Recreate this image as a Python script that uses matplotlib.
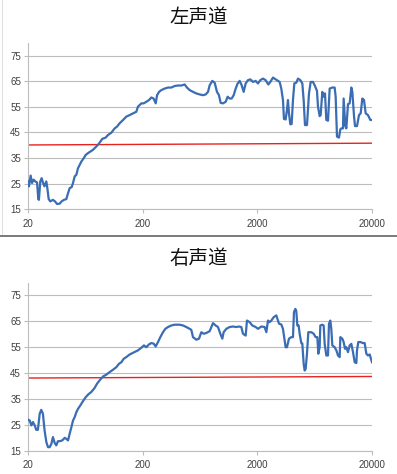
import matplotlib
matplotlib.use("Agg")
import matplotlib.pyplot as plt
from matplotlib.lines import Line2D

# left channel (Hz, dB)
left_freq = [20, 20.4, 21.1, 21.7, 22.4, 23.2, 24.0, 24.6, 24.9, 25.6, 26.3, 27.0, 27.8,
             28.9, 29.5, 30.3, 31.3, 33.0, 34.4, 35.8, 37.8, 39.3, 41.2, 43.2, 44.7, 46.2,
             48.1, 49.4, 51.1, 52.8, 54.6, 56.4, 58.4, 61.2, 63.7, 66.7, 69.9, 73.8, 78.9,
             82.7, 85.5, 89.0, 95.2, 99.7, 106.6, 114, 119.5, 126, 135, 144, 154, 165, 176,
             182, 195, 204, 215, 227, 238, 249, 260, 267, 278, 291, 311, 333, 356, 380, 407,
             435, 465, 487, 514, 550, 588, 628, 672, 709, 743, 768, 810, 849, 890, 926, 958,
             1003, 1059, 1102, 1147, 1195, 1244, 1295, 1348, 1403, 1461, 1520, 1583, 1658,
             1738, 1834, 1934, 2027, 2124, 2241, 2364, 2494, 2596, 2739, 2890, 3028, 3131,
             3237, 3347, 3415, 3531, 3627, 3700, 3776, 3879, 3984, 4092, 4204, 4376, 4525,
             4743, 4937, 5071, 5208, 5422, 5644, 5837, 6116, 6367, 6628, 6763, 6991, 7134,
             7377, 7578, 7784, 7995, 8267, 8548, 9019, 9452, 9643, 9904, 10310, 10590, 10800,
             11170, 11320, 11710, 11950, 12350, 12770, 13210, 13480, 13940, 14220, 14800,
             15410, 15940, 16480, 17040, 17620, 18460, 19340, 20000]
left_db = [25.8, 23.9, 28.1, 25.2, 26.5, 25.8, 25.4, 18.9, 18.6, 25.8, 27.1, 25.4, 23.9,
           25.8, 23.2, 18.9, 18.0, 18.6, 18.0, 17.0, 17.1, 18.0, 18.6, 18.9, 21.2, 23.2,
           23.6, 25.2, 27.8, 28.4, 31.0, 32.3, 33.6, 34.9, 36.2, 36.9, 37.5, 38.2, 39.5,
           40.5, 41.4, 42.5, 43.0, 44.0, 44.9, 46.6, 47.3, 48.6, 49.9, 51.2, 51.8, 52.5, 53.1,
           55.1, 56.4, 56.4, 57.0, 57.7, 58.7, 58.3, 56.4, 59.6, 60.9, 61.6, 62.2, 62.6, 62.6,
           63.2, 63.4, 63.4, 63.8, 62.6, 61.6, 60.9, 60.3, 59.9, 59.6, 59.9, 60.9, 63.5, 65.2,
           64.5, 60.9, 59.6, 56.6, 56.4, 57.0, 59.0, 58.3, 58.3, 59.6, 62.2, 64.2, 65.2, 63.5,
           60.9, 64.2, 65.5, 65.8, 64.8, 65.2, 64.2, 65.5, 66.1, 65.5, 63.8, 64.8, 66.5, 65.8,
           65.2, 64.8, 62.2, 57.7, 50.3, 50.1, 53.8, 57.7, 52.5, 48.2, 48.3, 57.7, 64.2, 64.5,
           66.1, 65.5, 64.2, 57.7, 47.9, 47.9, 60.3, 64.8, 64.8, 63.2, 61.3, 55.1, 51.4, 51.8,
           60.9, 59.0, 60.3, 49.9, 49.6, 62.2, 62.6, 62.6, 59.0, 43.4, 43.0, 46.2, 46.6, 46.6,
           58.3, 47.5, 46.6, 56.1, 56.4, 62.6, 60.9, 51.4, 47.5, 47.5, 51.8, 52.5, 58.3, 57.7,
           52.5, 51.8, 49.9, 49.9]

# right channel (Hz, dB)
right_freq = [20, 20.7, 21.4, 22.1, 22.9, 23.6, 24.4, 25.3, 26.1, 27.0, 27.9, 28.9, 29.9,
              30.9, 32.0, 33.0, 34.2, 35.3, 36.5, 37.8, 39.8, 41.8, 43.2, 44.7, 46.2, 47.8,
              49.4, 51.1, 52.8, 54.6, 57.2, 60.4, 63.7, 67.2, 71.3, 76.3, 80.0, 84.3, 90.2,
              96.4, 103.1, 110.2, 117.9, 124.4, 130.3, 136.5, 144.1, 154.1, 162.6, 170.4,
              182.2, 194.7, 205.4, 215.3, 227.1, 238.0, 249.4, 259.6, 272.2, 285.2, 300.8,
              315.3, 332.6, 355.7, 380.2, 420.5, 449.6, 480.7, 514, 531.5, 549.6, 587.6, 619.9,
              649.6, 680.9, 718.3, 767.9, 821, 866, 907.8, 951.4, 990.3, 1017, 1073, 1147,
              1227, 1312, 1384, 1450, 1500, 1583, 1625, 1715, 1809, 1934, 2027, 2167, 2317,
              2397, 2478, 2562, 2649, 2777, 2929, 3090, 3237, 3347, 3461, 3531, 3627, 3776,
              3958, 4092, 4176, 4290, 4376, 4465, 4586, 4679, 4838, 4937, 5071, 5174, 5279,
              5422, 5568, 5914, 6200, 6450, 6673, 6809, 6991, 7087, 7377, 7578, 7732, 7995,
              8267, 8434, 8662, 8834, 9019, 9452, 9776, 10110, 10450, 10590, 11020, 11320,
              11630, 11950, 12350, 12770, 13210, 13660, 14130, 14610, 14800, 15200, 15830,
              16690, 17270, 17850, 18460, 19090, 20000]
right_db = [27.0, 26.7, 24.8, 26.1, 24.8, 23.1, 23.1, 29.3, 30.8, 29.3, 22.9, 18.4, 16.4,
            16.4, 17.7, 20.3, 18.0, 17.1, 18.7, 18.7, 19.0, 20.0, 19.6, 19.0, 21.6, 24.1,
            26.7, 28.0, 29.9, 31.2, 32.5, 34.2, 35.7, 36.8, 37.7, 39.3, 40.9, 42.2, 43.7,
            44.4, 45.4, 46.3, 47.3, 48.6, 49.2, 50.5, 51.2, 52.2, 52.7, 53.1, 53.8, 54.8,
            55.7, 55.0, 56.1, 56.6, 56.4, 55.3, 57.0, 58.9, 60.8, 62.1, 62.8, 63.4, 63.7,
            63.7, 63.4, 62.8, 62.1, 61.7, 58.9, 57.9, 58.3, 60.8, 60.2, 60.5, 61.2, 64.3,
            63.4, 62.8, 60.2, 58.3, 60.8, 62.1, 62.8, 63.0, 62.8, 63.0, 62.8, 60.2, 59.5,
            65.3, 64.7, 63.4, 62.8, 62.1, 63.0, 62.8, 60.8, 65.3, 64.7, 65.3, 66.6, 67.3,
            64.1, 63.8, 62.1, 57.6, 55.0, 55.0, 58.3, 58.9, 58.9, 68.6, 69.8, 68.9, 63.4,
            63.4, 60.2, 56.6, 56.4, 48.6, 46.0, 46.6, 52.5, 60.8, 60.8, 60.2, 58.9, 58.9,
            52.5, 55.0, 63.4, 63.7, 63.4, 56.3, 51.8, 51.8, 64.1, 65.3, 62.1, 55.7, 55.0,
            53.8, 51.8, 51.2, 58.9, 58.3, 57.0, 54.4, 55.0, 53.1, 55.7, 56.3, 53.1, 49.2,
            48.9, 53.8, 57.0, 57.0, 56.6, 56.6, 52.5, 51.8, 52.2, 49.2]

# red reference lines (start/end dB)
left_ref = [40.1, 40.8]
right_ref = [43.1, 43.7]
ref_freq = [20, 20000]

titles = ["左声道", "右声道"]
y_ticks = [15, 25, 35, 45, 55, 65, 75]
x_ticks = [20, 200, 2000, 20000]

plt.rcParams['font.family'] = ['Liberation Sans', 'DejaVu Sans']

fig = plt.figure(figsize=(3.97, 4.74), dpi=100)

# axes rectangles in figure fraction
rects = [[0.0705, 0.559, 0.8665, 0.350],
         [0.0705, 0.049, 0.8665, 0.355]]
title_y = [1 - 17/474, 1 - 258/474]
data = [(left_freq, left_db, left_ref), (right_freq, right_db, right_ref)]

for i in range(2):
    ax = fig.add_axes(rects[i])
    fq, db, ref = data[i]
    ax.plot(ref_freq, ref, color='#e8231f', lw=1.0, zorder=2)
    ax.plot(fq, db, color='#3a6db3', lw=1.6, zorder=3, solid_joinstyle='round')
    ax.set_xscale('log')
    ax.set_xlim(20, 20000)
    ax.set_ylim(15, 80)
    ax.set_yticks(y_ticks)
    ax.set_xticks(x_ticks)
    ax.set_xticklabels([str(t) for t in x_ticks])
    ax.xaxis.set_minor_locator(matplotlib.ticker.NullLocator())
    ax.yaxis.grid(True, color='#bdbdbd', lw=0.8)
    ax.set_axisbelow(True)
    for s in ['top', 'right']:
        ax.spines[s].set_visible(False)
    for s in ['left', 'bottom']:
        ax.spines[s].set_color('#bdbdbd')
        ax.spines[s].set_linewidth(0.8)
    ax.tick_params(axis='both', colors='#bdbdbd', length=3, width=0.8,
                   labelsize=7, labelcolor='#404040', pad=2)
    ax.tick_params(axis='x', pad=4)
    fig.text(0.5, title_y[i], titles[i], ha='center', va='center', fontsize=14,
             family=['Noto Sans CJK SC', 'DejaVu Sans'], color='#111111')

# separator bar and faint left border
fig.add_artist(Line2D([0, 1], [1 - 235.5/474, 1 - 235.5/474], color='#6e6e6e', lw=1.3))
fig.add_artist(Line2D([0.005, 0.005], [1 - 234/474, 1.0], color='#e0e0e0', lw=0.8))

fig.savefig('out.png', dpi=100)
